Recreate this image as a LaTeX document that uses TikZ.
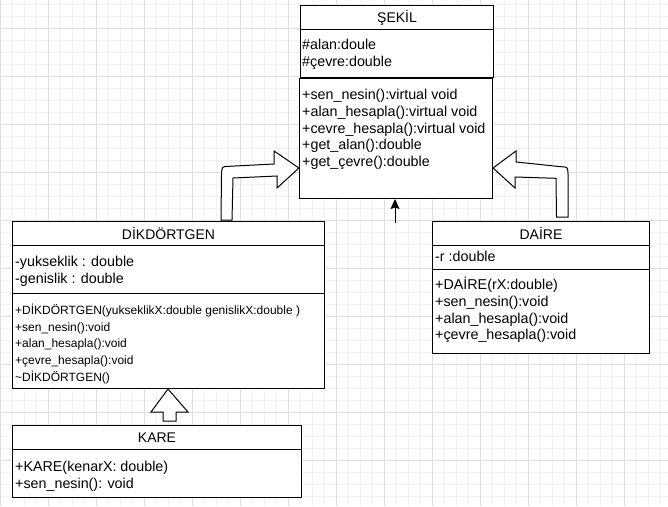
\documentclass[tikz,border=0pt]{standalone}
\usepackage{fontspec}
\setmainfont{Liberation Sans}
\usetikzlibrary{arrows.meta}

\definecolor{gridminor}{HTML}{F2F2F2}
\definecolor{gridmajor}{HTML}{DEDEDE}
\newcommand{\umltitle}{\fontsize{14}{16.7}\selectfont}
\newcommand{\umlrows}{\fontsize{14.3}{16.7}\selectfont}
\newcommand{\umlsmallrows}{\fontsize{12}{16.7}\selectfont}
\newcommand{\firstrow}{\rule{0pt}{14pt}}

\tikzset{
  umlbox/.style={draw=black, line width=1pt, fill=white, inner sep=0pt, anchor=north west},
  umlhead/.style={umlbox, minimum height=24pt, font=\umltitle},
  members/.style={anchor=north west, inner sep=0pt, align=left, font=\umlrows},
  smallmembers/.style={members, font=\umlsmallrows},
  hollowarrow/.style={draw=black, fill=white, line width=1pt, line join=miter},
  gridline/.style={line width=1pt, draw=gridminor},
  gridbold/.style={line width=1pt, draw=gridmajor}
}

\begin{document}
\begin{tikzpicture}[x=1pt, y=-1pt]
  \useasboundingbox (0,0) rectangle (668,506);

  % background grid
  \foreach \gx in {0,12,...,660} \draw[gridline] (\gx,0) -- (\gx,506);
  \foreach \gy in {4,16,...,500} \draw[gridline] (0,\gy) -- (668,\gy);
  \foreach \gx in {0,48,...,660} \draw[gridbold] (\gx,0) -- (\gx,506);
  \foreach \gy in {28,76,...,500} \draw[gridbold] (0,\gy) -- (668,\gy);

  % SEKIL
  \node[umlhead, minimum width=193pt] (sekilhead) at (300,5) {ŞEKİL};
  \node[umlbox, minimum width=193pt, minimum height=48pt] (sekilattr) at (300,29) {};
  \node[umlbox, minimum width=193pt, minimum height=120pt] (sekilmeth) at (299,78) {};
  \node[members] (sekilattrtext) at (302,35.6)
    {\firstrow\#alan:doule\\\#çevre:double};
  \node[members] (sekilmethtext) at (302,85.6)
    {\firstrow+sen\_nesin():virtual void\\+alan\_hesapla():virtual void\\+cevre\_hesapla():virtual void\\+get\_alan():double\\+get\_çevre():double};

  % DIKDORTGEN
  \node[umlhead, minimum width=312pt] (dikhead) at (12,221) {DİKDÖRTGEN};
  \node[umlbox, minimum width=312pt, minimum height=48pt] (dikattr) at (12,245) {};
  \node[umlbox, minimum width=312pt, minimum height=95pt] (dikmeth) at (12,293) {};
  \node[members] (dikattrtext) at (15,252.2)
    {\firstrow-yukseklik : double\\-genislik : double};
  \node[smallmembers] (dikmethtext) at (15,300.1)
    {\firstrow+DİKDÖRTGEN(yukseklikX:double genislikX:double )\\+sen\_nesin():void\\+alan\_hesapla():void\\+çevre\_hesapla():void\\\textasciitilde DİKDÖRTGEN()};

  % DAIRE
  \node[umlhead, minimum width=217pt] (daihead) at (432,221) {DAİRE};
  \node[umlbox, minimum width=217pt, minimum height=24pt] (daiattr) at (432,245) {};
  \node[umlbox, minimum width=217pt, minimum height=84pt] (daimeth) at (432,269) {};
  \node[members] (daiattrtext) at (435,247.2) {\firstrow-r :double};
  \node[members] (daimethtext) at (435,275.6)
    {\firstrow+DAİRE(rX:double)\\+sen\_nesin():void\\+alan\_hesapla():void\\+çevre\_hesapla():void};

  % KARE
  \node[umlhead, minimum width=289pt] (karehead) at (12,425) {KARE};
  \node[umlbox, minimum width=289pt, minimum height=48pt] (karemeth) at (12,449) {};
  \node[members] (karemethtext) at (15,457.2)
    {\firstrow+KARE(kenarX: double)\\+sen\_nesin(): void};

  % inheritance arrows
  \draw[hollowarrow] (221,220) -- (221.5,174) .. controls (222,166.5) .. (229,166.3)
    -- (274,164) -- (274,151) -- (299,168) -- (277,188) -- (277,176)
    -- (233,178) -- (232,220) -- cycle;
  \draw[hollowarrow] (568,217) -- (568,176) .. controls (568,167) .. (561,166.7)
    -- (516,162) -- (516,151) -- (493,168) -- (515,188) -- (515,177)
    -- (556,178.3) -- (556.5,217) -- cycle;
  \draw[hollowarrow] (163,421) -- (163,412) -- (151,412) -- (168,389)
    -- (188,412) -- (176,412) -- (176,421) -- cycle;

  \coordinate (sekiltail) at (395,223);
  \draw[line width=1pt, -{Stealth[length=10pt, width=9pt, inset=1.5pt]}]
    (sekiltail) -- (sekiltail |- sekilmeth.south);
\end{tikzpicture}
\end{document}
